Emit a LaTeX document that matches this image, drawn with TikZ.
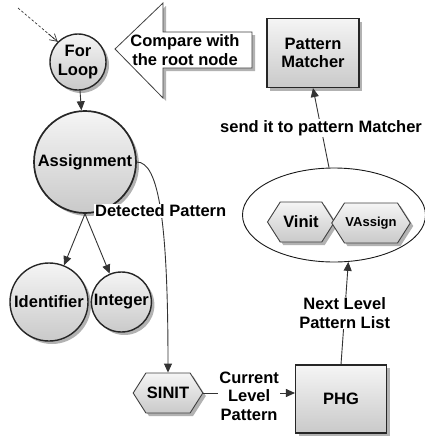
\documentclass[tikz,border=0pt]{standalone}
\usepackage{fontspec}
\setmainfont{Liberation Sans}
\usetikzlibrary{arrows.meta,positioning,shapes.geometric,shapes.symbols,shadows}
\tikzset{
  arnyek/.style={drop shadow={shadow xshift=3pt,shadow yshift=-3pt,fill=gray!60,opacity=1}},
  kor/.style={circle,draw=black!85,line width=1.4pt,inner sep=0pt,align=center,
              top color=gray!8,bottom color=gray!42,arnyek},
  hatszog/.style={signal,signal to=east and west,signal pointer angle=115,draw=black!75,
                  line width=0.9pt,top color=gray!8,bottom color=gray!42,minimum height=40pt,
                  minimum width=67pt,inner sep=1pt,arnyek},
  doboz/.style={rectangle,draw=black!85,line width=1.1pt,top color=gray!8,bottom color=gray!42,
                align=center,arnyek},
  nyil/.style={-{Triangle[length=9pt,width=8pt]},draw=black!80,line width=0.9pt},
  szaggatott/.style={dash pattern=on 2.5pt off 2pt,draw=black!80,line width=0.7pt},
  cimke/.style={fill=white,inner sep=1pt,align=center},
}
\begin{document}
\begin{tikzpicture}[x=1pt,y=1pt,font=\bfseries\fontsize{16.5}{18.5}\selectfont]
  \useasboundingbox (0,0) rectangle (425,-442);
  \draw[fill=white,draw=black!75,line width=0.8pt,arnyek]
    (252,-32) -- (163,-32) -- (163,-3) -- (115,-49) -- (163,-98) -- (163,-68) -- (252,-68) -- cycle;
  \node[align=center] (cmp) at (185,-50) {Compare with\\the root node};
  \node[kor,minimum size=56pt] (for) at (78,-62) {For\\Loop};
  \node[kor,minimum size=102pt,line width=1.7pt] (asg) at (85,-162) {Assignment};
  \node[kor,minimum size=78pt] (idf) at (49,-302) {Identifier};
  \node[kor,minimum size=60pt,right=2pt of idf] (int) {Integer};
  \node[hatszog] (sinit) at (168,-393) {SINIT};
  \node[doboz,minimum width=91pt,minimum height=68pt] (phg) at (341,-399) {PHG};
  \node[ellipse,draw=black!90,line width=0.9pt,minimum width=183pt,minimum height=94pt] (lista) at (334,-215) {};
  \node[hatszog] (vinit) at (301,-222) {Vinit};
  \node[hatszog,font=\bfseries\fontsize{13}{15}\selectfont] (vassign) at (371,-223) {VAssign};
  \node[doboz,minimum width=92pt,minimum height=69pt] (pm) at (313,-53) {Pattern\\Matcher};
  \coordinate (be) at (18,-8);
  \draw[szaggatott] (be) -- (for.135);
  \draw[draw=black!80,line width=0.7pt,shorten <=40pt,-{Straight Barb[length=7pt,width=8pt]}] (be) -- (for.135);
  \draw[nyil] (for) -- (asg);
  \draw[nyil] (asg.south) -- (idf);
  \draw[nyil] (asg.south) -- (int);
  \draw[nyil] (asg.east) .. controls +(22,0) and +(0,150) .. node[cimke,pos=0.5] {Detected Pattern} (sinit.north);
  \draw[nyil] (sinit.east) -- node[cimke,yshift=-3pt] {Current\\Level\\Pattern} (sinit.east -| phg.west);
  \draw[nyil] (phg.north) -- node[cimke] {Next Level\\Pattern List} (lista.-73);
  \draw[nyil] (lista.96) -- node[cimke] {send it to pattern Matcher} (pm.south);
\end{tikzpicture}
\end{document}
